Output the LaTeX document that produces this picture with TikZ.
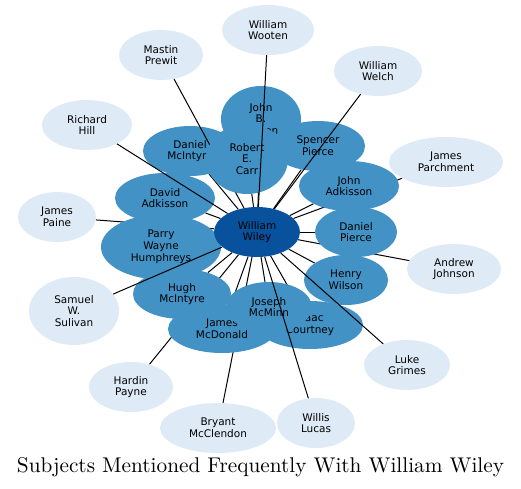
\documentclass[tikz,border=0pt]{standalone}
\usepackage{fontspec}
\newfontfamily\nodefont{DejaVu Sans}
\usetikzlibrary{shapes.geometric}
\definecolor{lightb}{HTML}{DEEBF7}
\definecolor{midb}{HTML}{4292C6}
\definecolor{darkb}{HTML}{08519C}
\pgfdeclarelayer{eback}
\pgfdeclarelayer{outerl}
\pgfdeclarelayer{mida}
\pgfdeclarelayer{emastin}
\pgfdeclarelayer{carrl}
\pgfdeclarelayer{etop}
\pgfsetlayers{eback,outerl,mida,emastin,carrl,etop,main}
\tikzset{
  person/.style={ellipse, inner sep=0pt, align=center, text=black,
    font=\nodefont\fontsize{10.5}{11.8}\selectfont},
  outerp/.style={person, fill=lightb},
  midp/.style={person, fill=midb},
  centerp/.style={person, fill=darkb},
  sz/.style 2 args={minimum width=#1pt, minimum height=#2pt},
  link/.style={draw=black, line width=1pt}
}
\begin{document}
\begin{tikzpicture}[x=1pt,y=-1pt]
\useasboundingbox (0,0) rectangle (521,488);
% outer nodes
\begin{pgfonlayer}{outerl}
\node[outerp, sz={92}{50}] (wooten) at (268,30) {William\\Wooten};
\node[outerp, sz={84}{50}] (mastin) at (161,55) {Mastin\\Prewit};
\node[outerp, sz={88}{50}] (welch) at (378,71) {William\\Welch};
\node[outerp, sz={90}{50}] (rhill) at (87,125) {Richard\\Hill};
\node[outerp, sz={114}{50}] (parch) at (446,162) {James\\Parchment};
\node[outerp, sz={78}{50}] (paine) at (57,217) {James\\Paine};
\node[outerp, sz={94}{50}] (ajohn) at (454,269) {Andrew\\Johnson};
\node[outerp, sz={90}{68}] (samuel) at (74,311) {Samuel\\W.\\Sulivan};
\node[outerp, sz={84}{50}] (hardin) at (131,387) {Hardin\\Payne};
\node[outerp, sz={116}{50}] (bryant) at (218,428) {Bryant\\McClendon};
\node[outerp, sz={78}{50}] (willis) at (316,423) {Willis\\Lucas};
\node[outerp, sz={86}{50}] (luke) at (407,365) {Luke\\Grimes};
\end{pgfonlayer}
% middle nodes
\begin{pgfonlayer}{mida}
\node[midp, sz={80}{66}] (johnb) at (261,119) {John\\B.\\Hinton};
\node[midp, sz={94}{50}] (dmcint) at (190,151) {Daniel\\McIntyre};
\node[midp, sz={94}{50}] (spencer) at (318,146) {Spencer\\Pierce};
\node[midp, sz={100}{50}] (jadk) at (349,186) {John\\Adkisson};
\node[midp, sz={100}{50}] (dadk) at (165,198) {David\\Adkisson};
\node[midp, sz={120}{65}] (parry) at (161,247) {Parry\\Wayne\\Humphreys};
\node[midp, sz={82}{50}] (dpierce) at (356,232) {Daniel\\Pierce};
\node[midp, sz={84}{50}] (henry) at (346,280) {Henry\\Wilson};
\node[midp, sz={98}{50}] (hugh) at (182,294) {Hugh\\McIntyre};
\node[midp, sz={106}{48}] (isaac) at (310,325) {Isaac\\Courtney};
\node[midp, sz={108}{48}] (james) at (222,329) {James\\McDonald};
\node[midp, sz={86}{50}] (joseph) at (269,307) {Joseph\\McMinn};
\end{pgfonlayer}
\begin{pgfonlayer}{carrl}
\node[midp, sz={82}{70}] (carr) at (247,159) {Robert\\E.\\Carr};
\end{pgfonlayer}
% centre node
\node[centerp, sz={86}{50}] (wiley) at (257,232) {William\\Wiley};
% edges below the nodes
\begin{pgfonlayer}{eback}
\foreach \t in {johnb,dmcint,carr,spencer,jadk,dadk,parry,dpierce,henry,hugh,isaac,james,joseph,paine,ajohn,parch,hardin,bryant}
  \draw[link] (wiley) -- (\t);
\end{pgfonlayer}
\begin{pgfonlayer}{emastin}
\draw[link] (wiley) -- (mastin);
\end{pgfonlayer}
\begin{pgfonlayer}{etop}
\foreach \t in {wooten,welch,rhill,samuel,willis,luke}
  \draw[link] (wiley) -- (\t);
\end{pgfonlayer}
% title
\node[inner sep=0pt] (title) at (260.5,467) {\resizebox{487pt}{!}{Subjects Mentioned Frequently With William Wiley}};
\end{tikzpicture}
\end{document}
